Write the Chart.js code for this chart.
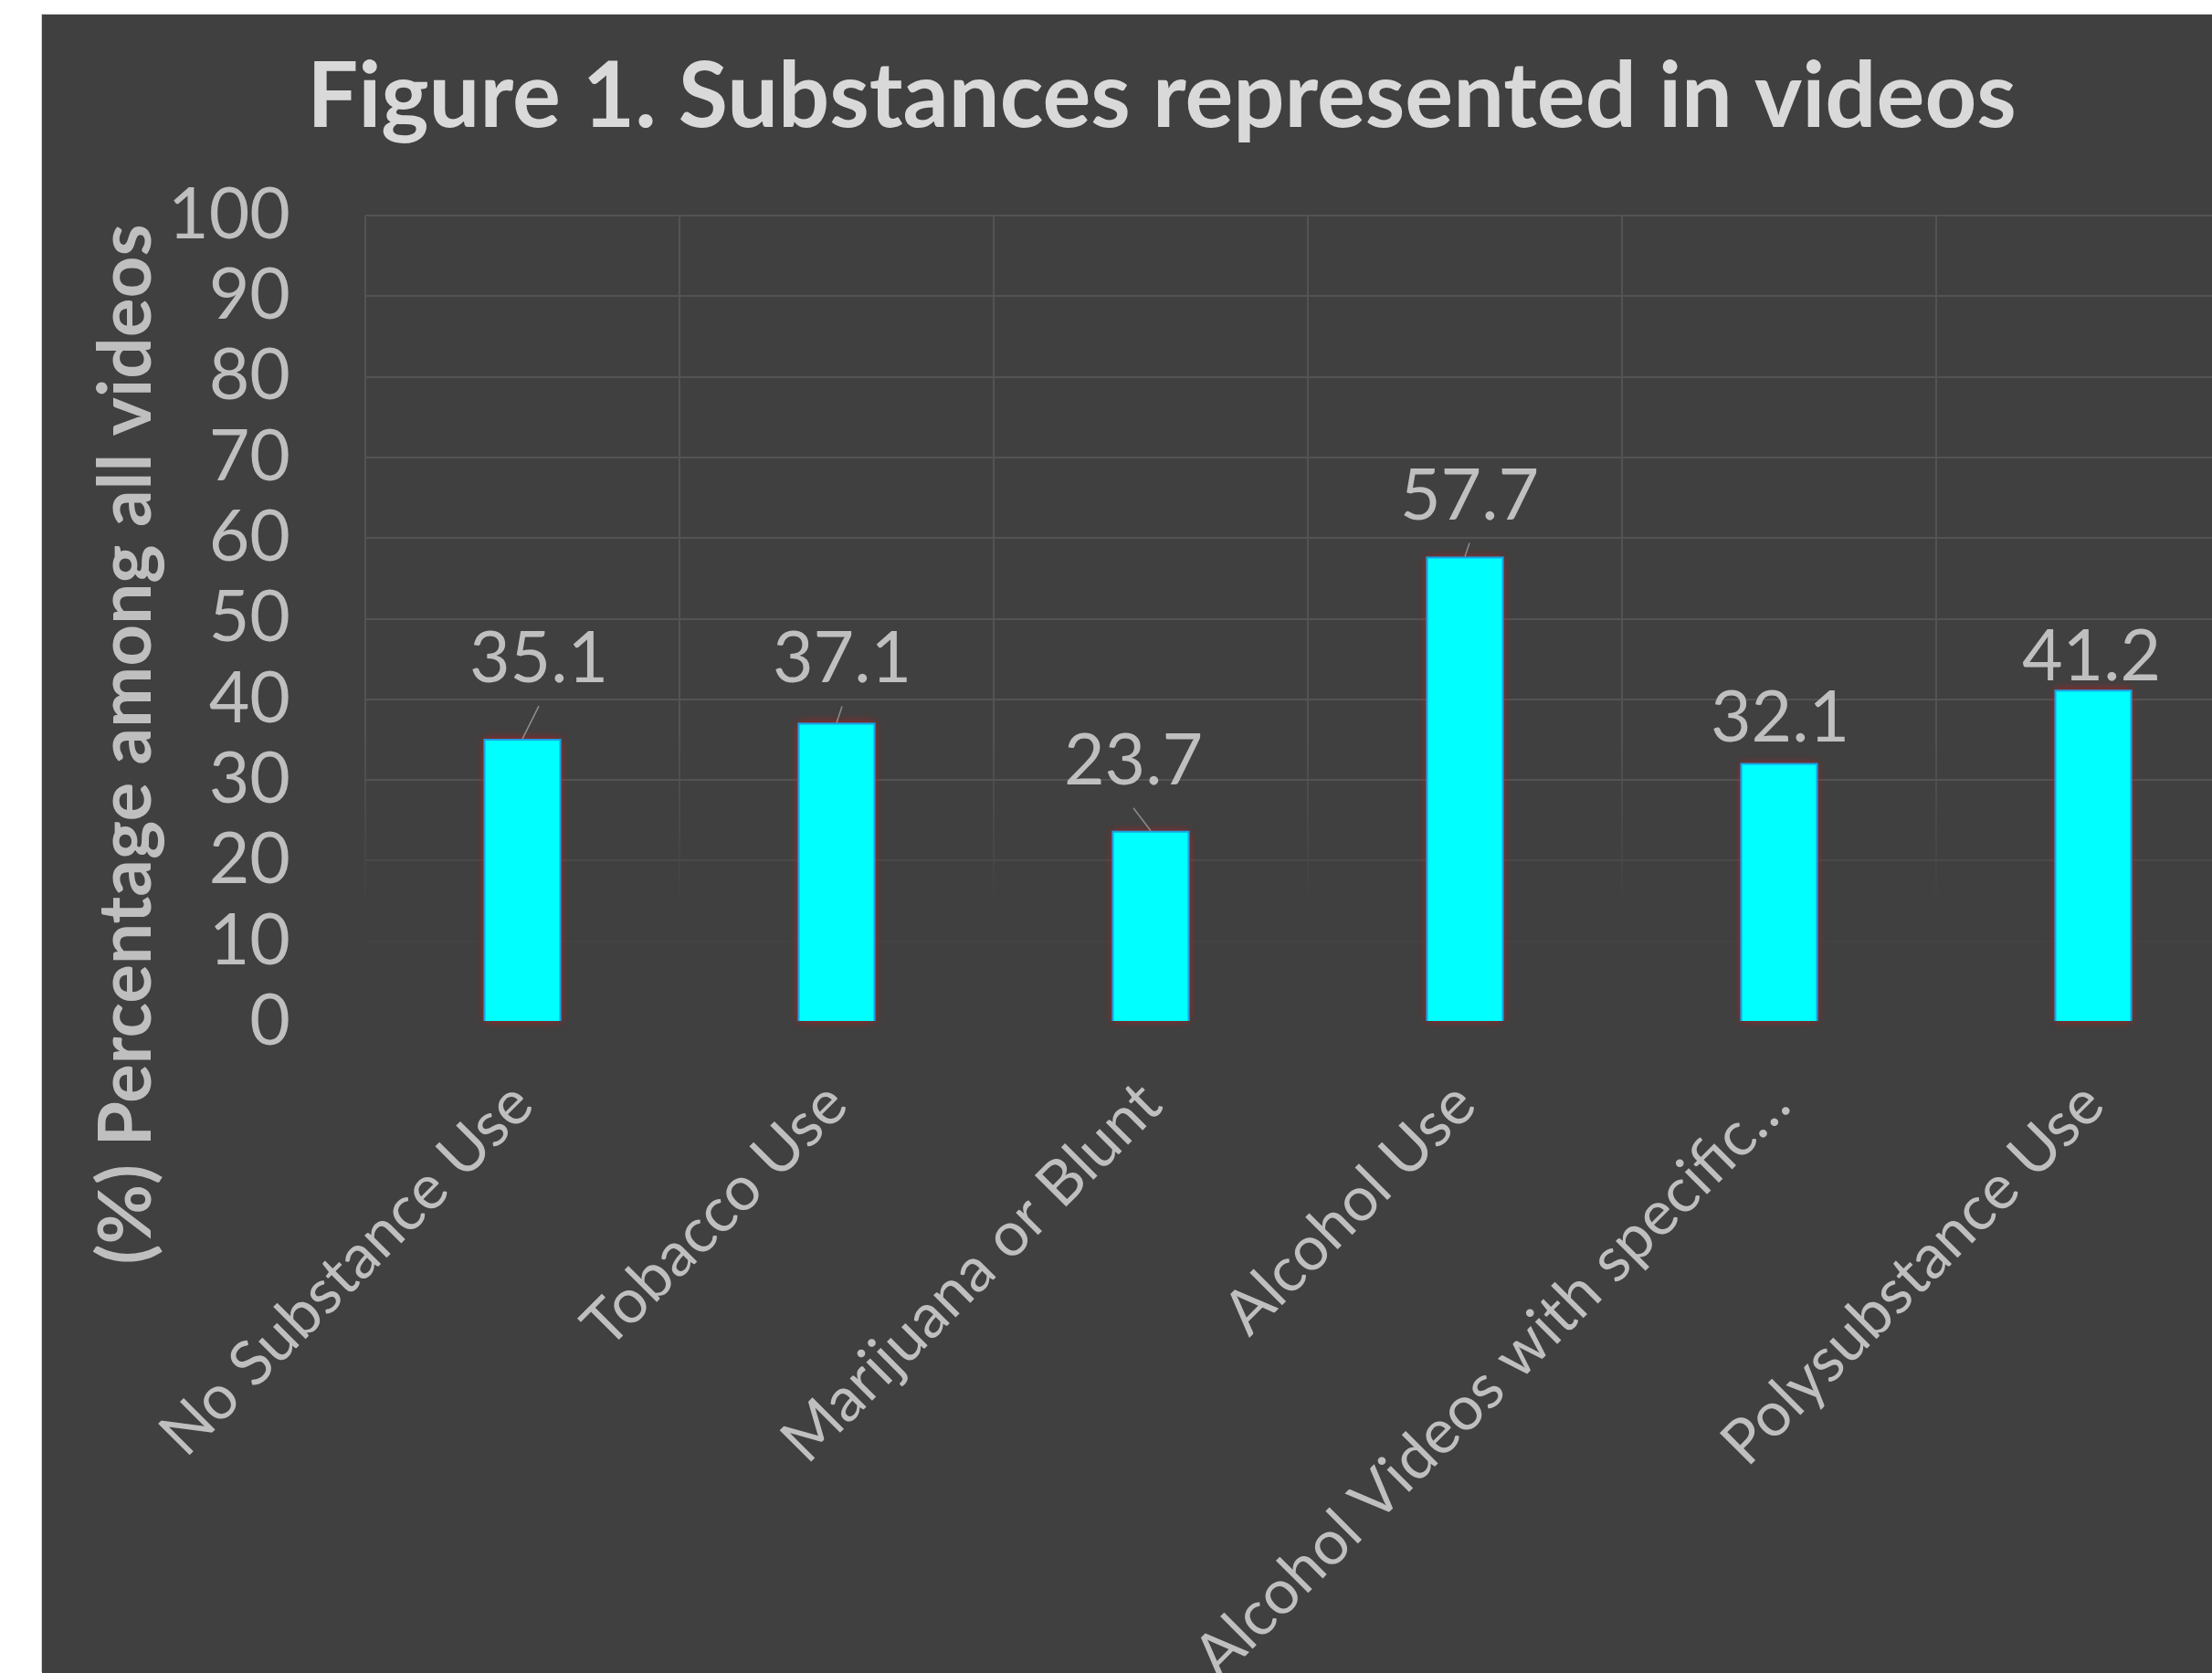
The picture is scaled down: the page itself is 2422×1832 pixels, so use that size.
<!DOCTYPE html>
<html>
<head>
<meta charset="utf-8">
<script src="https://cdn.jsdelivr.net/npm/chart.js@4/dist/chart.umd.min.js"></script>
<style>
  html, body { margin: 0; background: #fff; overflow: hidden; }
  #wrap {
    position: absolute; left: 46px; top: 16px;
    width: 2452px; height: 1816px;
    background: #404040;
    box-shadow: -1px -1px 0 #d0d0d0;
  }
</style>
</head>
<body>
<div id="wrap"><canvas id="chart"></canvas></div>
<script>
// ── Data ────────────────────────────────────────────────
const chartTitle = "Figure 1. Substances represented in videos";
const yTitle = "(%) Percentage among all videos";
const categories = [
  "No Substance Use",
  "Tobacco Use",
  "Marijuana or Blunt",
  "Alcohol Use",
  "Alcohol Videos with specific…",
  "Polysubstance Use",
];
const percentages = [35.1, 37.1, 23.7, 57.7, 32.1, 41.2];
const yMin = 0;
const yMax = 100;
const yStep = 10;

// hand-placed label offsets from the bar top (px), like the original
const labelNudge = [[18, -89], [6, -71], [-19, -78], [5, -68], [1, -51], [-2, -37]];

const FONT = "Lato";
const TEXT = "#bfbfbf";
Chart.defaults.font.family = FONT;

// soft red glow behind each bar (the bar element clips its own shadow)
const glowPlugin = {
  id: "barGlow",
  beforeDatasetsDraw(chart) {
    const ctx = chart.ctx;
    const meta = chart.getDatasetMeta(0);
    ctx.save();
    ctx.shadowColor = "rgba(190, 30, 30, 0.9)";
    ctx.shadowBlur = 9;
    ctx.fillStyle = "#1ba1e2";
    meta.data.forEach((bar) => {
      const { x, y, base, width } = bar.getProps(["x", "y", "base", "width"], true);
      ctx.fillRect(x - width / 2, y, width, base - y);
    });
    ctx.restore();
  },
};

const valueLabels = {
  id: "valueLabels",
  afterDatasetsDraw(chart) {
    const ctx = chart.ctx;
    const meta = chart.getDatasetMeta(0);
    ctx.save();
    ctx.font = `77px ${FONT}`;
    ctx.fillStyle = TEXT;
    ctx.textAlign = "center";
    ctx.textBaseline = "alphabetic";
    meta.data.forEach((bar, i) => {
      const [dx, dy] = labelNudge[i];
      const cx = bar.x + dx;
      const bottom = bar.y + dy + 27;
      ctx.fillText(percentages[i].toFixed(1), cx, bottom);
      const endY = bottom + 26;
      if (bar.y - endY > 5) {
        ctx.strokeStyle = "#8c8c8c";
        ctx.lineWidth = 1.5;
        ctx.beginPath();
        ctx.moveTo(bar.x, bar.y);
        ctx.lineTo(cx, endY);
        ctx.stroke();
      }
    });
    ctx.restore();
  },
};

// chart title and rotated axis title, placed like the original
const titles = {
  id: "titles",
  afterDraw(chart) {
    const { ctx, chartArea, width } = chart;
    ctx.save();
    ctx.fillStyle = "#d9d9d9";
    ctx.font = `bold 99px ${FONT}`;
    ctx.textAlign = "center";
    ctx.textBaseline = "middle";
    ctx.fillText(chartTitle, width / 2, 91);

    ctx.translate(93, chartArea.top + 579);
    ctx.rotate(-Math.PI / 2);
    ctx.font = `bold 80px ${FONT}`;
    ctx.fillStyle = TEXT;
    ctx.fillText(yTitle, 0, 0);
    ctx.restore();
  },
};

function fadingGrid(c) {
  const area = c.chart.chartArea;
  if (!area) return "#535353";
  const g = c.chart.ctx.createLinearGradient(0, area.top, 0, area.bottom);
  g.addColorStop(0, "#535353");
  g.addColorStop(0.64, "#535353");
  g.addColorStop(0.86, "#404040");
  g.addColorStop(1, "#404040");
  return g;
}

new Chart(document.getElementById("chart"), {
  type: "bar",
  data: {
    labels: categories,
    datasets: [
      {
        data: percentages,
        backgroundColor: "#00ffff",
        borderColor: "#1ba1e2",
        borderWidth: 2,
        categoryPercentage: 1,
        barPercentage: 0.247,
      },
    ],
  },
  options: {
    responsive: true,
    maintainAspectRatio: false,
    animation: false,
    layout: { padding: { left: 0, right: 34, top: 220, bottom: 0 } },
    plugins: {
      legend: { display: false },
      tooltip: { enabled: false },
      title: { display: false },
    },
    scales: {
      x: {
        border: { display: false },
        grid: { color: fadingGrid, lineWidth: 2, drawTicks: false },
        ticks: {
          color: TEXT,
          font: { size: 68 },
          minRotation: 45,
          maxRotation: 45,
          autoSkip: false,
          padding: 50,
        },
        afterFit(scale) { scale.height = 713; },
      },
      y: {
        min: yMin,
        max: yMax,
        border: { display: false },
        grid: {
          drawTicks: false,
          lineWidth: 2,
          color: (c) => {
            const v = c.tick ? c.tick.value : 100;
            if (v <= 0) return "rgba(0,0,0,0)";
            if (v <= 10) return "#434343";
            if (v <= 20) return "#4a4a4a";
            return "#535353";
          },
        },
        ticks: {
          stepSize: yStep,
          autoSkip: false,
          color: TEXT,
          font: { size: 77 },
          padding: 82,
        },
        afterFit(scale) { scale.width = 354; },
      },
    },
  },
  plugins: [glowPlugin, valueLabels, titles],
});
</script>
</body>
</html>
